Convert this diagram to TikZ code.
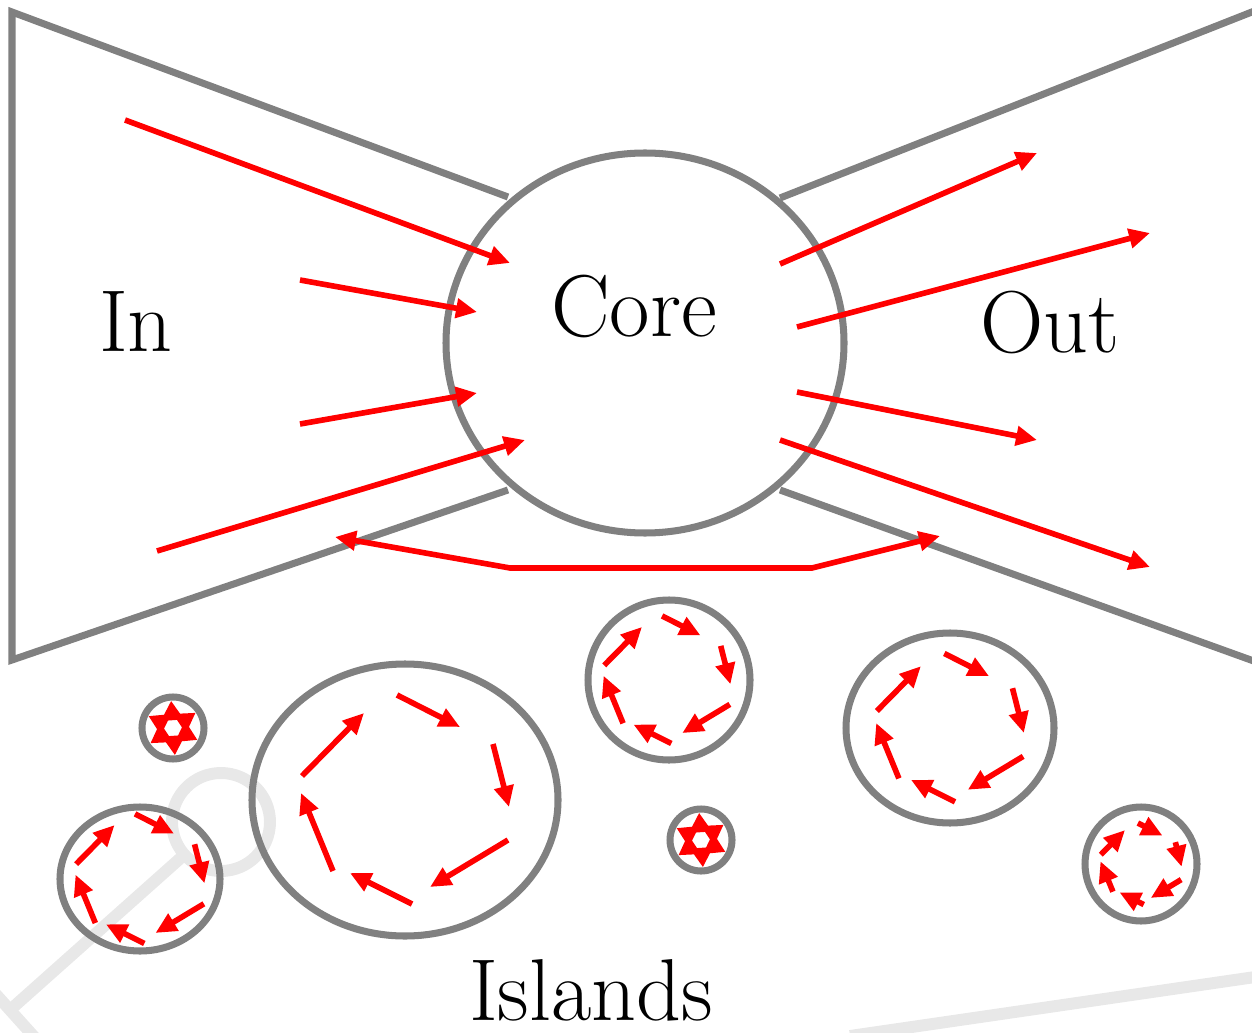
\documentclass[tikz,border=0pt]{standalone}
\usetikzlibrary{arrows.meta}
\definecolor{wire}{HTML}{808080}
\definecolor{ghost}{HTML}{E8E8E8}

\tikzset{
  rim/.style={draw=wire, line width=2pt},
  tip/.style={Triangle[length=2.1mm,width=1.9mm]},
  flow/.style={draw=red, line width=1.6pt, -{Triangle[length=2.1mm,width=1.9mm]}},
  ghostline/.style={draw=ghost, line width=3.4pt},
  word/.style={anchor=base, font=\fontsize{25}{30}\selectfont},
  % six arrows turning round an island
  vortex/.pic={
    \draw[flow] (-103,-24) -- (-41,-87);
    \draw[flow] (-8,-105) -- (55,-73);
    \draw[flow] (88,-56) -- (104,7);
    \draw[flow] (103,40) -- (25,87);
    \draw[flow] (7,104) -- (-55,73);
    \draw[flow] (-72,71) -- (-104,-7);
  },
  % the arrows of a tiny island run together into a star
  hexstar/.pic={
    \fill[red, even odd rule]
      (-94:27) -- (-64:16) -- (-34:27) -- (-4:16) -- (26:27) -- (56:16)
      -- (86:27) -- (116:16) -- (146:27) -- (176:16) -- (206:27) -- (236:16) -- cycle
      (-64:9) -- (-4:9) -- (56:9) -- (116:9) -- (176:9) -- (236:9) -- cycle;
  }
}

\begin{document}
\begin{tikzpicture}[x=0.1mm, y=-0.1mm]
  \useasboundingbox (0,0) rectangle (1252,1033);

  % faint marks behind
  \draw[ghostline] (221,822) circle [radius=49];
  \draw[ghostline] (184,855) -- (10,1010);
  \draw[ghostline] (-17,980) -- (37,1040);
  \draw[ghostline] (850,1036) -- (1262,976);

  % bow tie and core
  \draw[rim] (508,197) -- (12,12) -- (12,660) -- (508,490);
  \draw[rim] (780,198) -- (1262,8);
  \draw[rim] (780,490) -- (1262,664);
  \draw[rim] (645,343) ellipse [x radius=199, y radius=190];

  \node[word] (inlabel) at (136,352) {In};
  \node[word] (corelabel) at (634,337) {Core};
  \node[word] (outlabel) at (1050,353) {Out};
  \node[word] (islandlabel) at (591,1020) {Islands};

  % flow into the core
  \draw[flow] (125,120) -- (510,263);
  \draw[flow] (300,280) -- (477,312);
  \draw[flow] (300,424) -- (477,393);
  \draw[flow] (157,551) -- (525,440);
  % flow out of the core
  \draw[flow] (780,264) -- (1037,153);
  \draw[flow] (797,327) -- (1150,233);
  \draw[flow] (797,392) -- (1037,440);
  \draw[flow] (780,440) -- (1150,567);
  % tube from in to out
  \draw[flow, {Triangle[length=2.1mm,width=1.9mm]}-{Triangle[length=2.1mm,width=1.9mm]}]
    (335,537) -- (510,568) -- (812,568) -- (940,536);

  % islands
  \draw[rim] (173,728) circle [radius=31];
  \pic at (173,728) {hexstar};
  \draw[rim] (701,840) circle [radius=31];
  \pic at (701,840) {hexstar};
  \draw[rim] (140,879) ellipse [x radius=80, y radius=72];
  \pic[scale=0.62] at (140,879) {vortex};
  \draw[rim] (405,800) ellipse [x radius=153, y radius=136];
  \pic at (405,800) {vortex};
  \draw[rim] (669,680) ellipse [x radius=81, y radius=80];
  \pic[scale=0.61] at (667,680) {vortex};
  \draw[rim] (950,728) ellipse [x radius=104, y radius=95];
  \pic[scale=0.71] at (950,728) {vortex};
  \draw[rim] (1141,864) ellipse [x radius=56, y radius=57];
  \pic[scale=0.39] at (1141,864) {vortex};
\end{tikzpicture}
\end{document}
